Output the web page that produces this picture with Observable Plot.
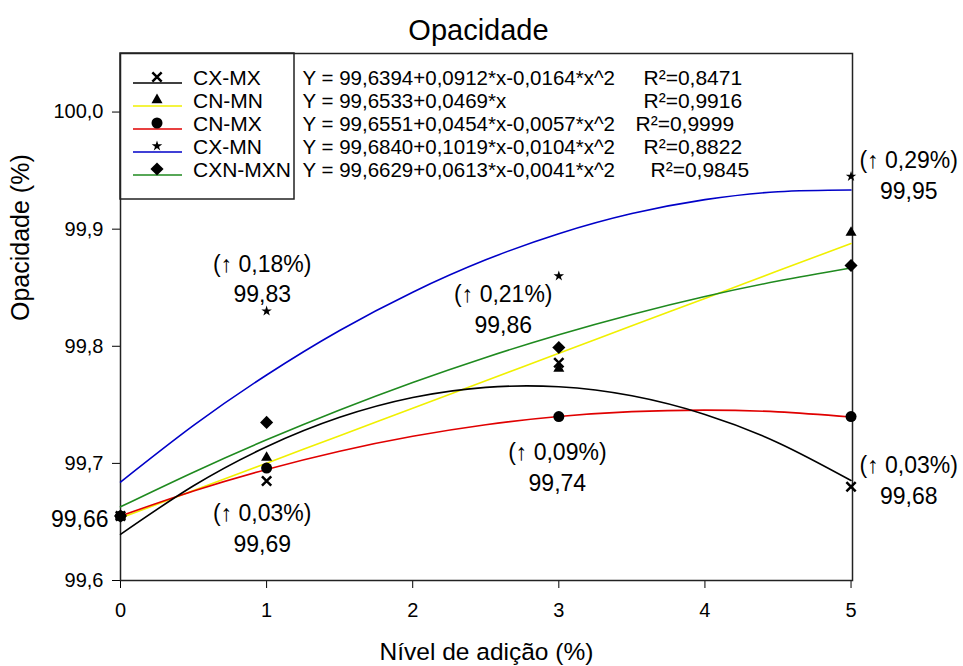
<!DOCTYPE html>
<html><head><meta charset="utf-8">
<script src="https://cdn.jsdelivr.net/npm/d3@7"></script>
<script src="https://cdn.jsdelivr.net/npm/@observablehq/plot@0.6"></script>
<style>body{margin:0;background:#fff} svg{font-family:"Liberation Sans","DejaVu Sans",Arial,sans-serif}</style>
</head><body><div id="chart"></div>
<script>
// ---- data ----
const seriesNames = ["CX-MX", "CN-MN", "CN-MX", "CX-MN", "CXN-MXN"];
const seriesColors = ["#000000", "#f0f000", "#e00000", "#0000c8", "#1f8a1f"];
const seriesSymbols = ["times", "triangle", "circle", "star", "diamond2"];
const levels = [0, 1, 3, 5];
const obsCXMX   = [99.655, 99.685, 99.786, 99.680];
const obsCNMN   = [99.655, 99.705, 99.781, 99.897];
const obsCNMX   = [99.655, 99.696, 99.740, 99.740];
const obsCXMN   = [99.655, 99.830, 99.860, 99.945];
const obsCXNMXN = [99.655, 99.735, 99.799, 99.869];
// fitted curves read along x = 0, 0.5, ..., 5
const fitX      = [0, 0.5, 1, 1.5, 2, 2.5, 3, 3.5, 4, 4.5, 5];
const fitCXMX   = [99.6394, 99.6809, 99.7142, 99.7393, 99.7562, 99.7649, 99.7654, 99.7577, 99.7418, 99.7177, 99.6854];
const fitCNMN   = [99.6533, 99.6768, 99.7002, 99.7237, 99.7471, 99.7706, 99.7940, 99.8175, 99.8409, 99.8644, 99.8878];
const fitCNMX   = [99.6551, 99.6764, 99.6948, 99.7104, 99.7231, 99.7330, 99.7400, 99.7442, 99.7455, 99.7440, 99.7396];
const fitCXMN   = [99.6840, 99.7324, 99.7755, 99.8135, 99.8462, 99.8738, 99.8961, 99.9133, 99.9252, 99.9320, 99.9335];
const fitCXNMXN = [99.6629, 99.6925, 99.7201, 99.7456, 99.7691, 99.7905, 99.8099, 99.8272, 99.8425, 99.8557, 99.8669];
const equations = [
  "Y = 99,6394+0,0912*x-0,0164*x^2",
  "Y = 99,6533+0,0469*x",
  "Y = 99,6551+0,0454*x-0,0057*x^2",
  "Y = 99,6840+0,1019*x-0,0104*x^2",
  "Y = 99,6629+0,0613*x-0,0041*x^2"
];
const r2Labels = ["R²=0,8471", "R²=0,9916", "R²=0,9999", "R²=0,8822", "R²=0,9845"];
const xTicks = [0, 1, 2, 3, 4, 5];
const yTicks = [99.6, 99.7, 99.8, 99.9, 100.0];
const annoText = ["(↑\uFE0E 0,18%)\n99,83", "(↑\uFE0E 0,03%)\n99,69", "(↑\uFE0E 0,21%)\n99,86", "(↑\uFE0E 0,09%)\n99,74", "(↑\uFE0E 0,29%)\n99,95", "(↑\uFE0E 0,03%)\n99,68"];
const annoX = [0.97, 0.97, 2.62, 2.99, 5.395, 5.395];
const annoY = [99.859, 99.646, 99.833, 99.698, 99.9474, 99.6868];
const baseLabel = "99,66";
const baseValue = 99.652;

const obs = [obsCXMX, obsCNMN, obsCNMX, obsCXMN, obsCXNMXN];
const fits = [fitCXMX, fitCNMN, fitCNMX, fitCXMN, fitCXNMXN];
const symR = {times: 4.3, triangle: 4.1, circle: 5.5, star: 3.3, diamond2: 5.9};
const d3Sym = {times: d3.symbolTimes, triangle: d3.symbolTriangle, circle: d3.symbolCircle, star: d3.symbolStar, diamond2: d3.symbolDiamond2};
const font = "'Liberation Sans', 'DejaVu Sans', Arial, sans-serif";
const rowY = i => 25 + 23 * i;

function legendMark(index, scales, values, dims) {
  const L = dims.marginLeft, T = dims.marginTop;
  const g = d3.create("svg:g");
  g.append("rect").attr("x", L).attr("y", T).attr("width", 174).attr("height", 146)
    .attr("fill", "none").attr("stroke", "#222").attr("stroke-width", 1.5);
  seriesNames.forEach((name, i) => {
    const y = T + rowY(i);
    g.append("line").attr("x1", L + 13).attr("x2", L + 62).attr("y1", y + 5).attr("y2", y + 5)
      .attr("stroke", seriesColors[i]).attr("stroke-width", 1.6);
    const s = seriesSymbols[i], r = symR[s];
    const p = g.append("path").attr("d", d3.symbol(d3Sym[s], r * r * Math.PI)())
      .attr("transform", `translate(${L + 37},${y - 1})`);
    if (s === "times") p.attr("fill", "none").attr("stroke", "#000").attr("stroke-width", 2.5);
    else p.attr("fill", "#000");
    g.append("text").attr("x", L + 73).attr("y", y).attr("dy", "0.35em")
      .attr("text-anchor", "start")
      .attr("font-size", 21).attr("font-family", font).attr("fill", "#000").text(name);
  });
  return g.node();
}

const marks = [Plot.frame({stroke: "#222", strokeWidth: 1.5})];
[1, 2, 0, 4, 3].forEach(i => {
  marks.push(Plot.line(fitX.map((x, j) => ({x, y: fits[i][j]})), {x: "x", y: "y", stroke: seriesColors[i], strokeWidth: 1.6, curve: "natural"}));
});
[4, 3, 1, 0, 2].forEach(i => {
  const s = seriesSymbols[i];
  const opts = {x: "x", y: "y", symbol: s, r: symR[s]};
  if (s === "times") Object.assign(opts, {stroke: "#000", strokeWidth: 2.5, fill: "none"});
  else Object.assign(opts, {fill: "#000", stroke: "none"});
  marks.push(Plot.dot(levels.map((x, j) => ({x, y: obs[i][j]})), opts));
});
marks.push(Plot.text(annoText.map((t, i) => ({t, x: annoX[i], y: annoY[i]})), {x: "x", y: "y", text: "t", fontSize: 23, lineHeight: 1.32, lineAnchor: "middle", fill: "#000"}));
marks.push(Plot.text([{x: 0, y: baseValue}], {x: "x", y: "y", text: () => baseLabel, textAnchor: "end", dx: -12, fontSize: 23, fill: "#000"}));
marks.push(legendMark);
equations.forEach((eq, i) => {
  marks.push(Plot.text([eq], {frameAnchor: "top-left", dx: 182, dy: rowY(i), textAnchor: "start", lineAnchor: "middle", fontSize: 20.5, fill: "#000"}));
});
const r2dx = [523, 523, 515, 523, 530];
r2Labels.forEach((r, i) => {
  marks.push(Plot.text([r], {frameAnchor: "top-left", dx: r2dx[i], dy: rowY(i), textAnchor: "start", lineAnchor: "middle", fontSize: 21, fill: "#000"}));
});
marks.push(Plot.text(["Opacidade"], {frameAnchor: "top", dx: -8, dy: -23, lineAnchor: "middle", fontSize: 29, fill: "#000"}));
marks.push(Plot.text(["Opacidade (%)"], {frameAnchor: "left", dx: -100, dy: 4, rotate: -90, lineAnchor: "middle", fontSize: 25, fill: "#000"}));
marks.push(Plot.text(["Nível de adição (%)"], {frameAnchor: "bottom", dy: 72, lineAnchor: "middle", fontSize: 24.5, fill: "#000"}));

const chart = Plot.plot({
  width: 963, height: 666,
  marginLeft: 120, marginRight: 111, marginTop: 53, marginBottom: 86,
  style: {fontFamily: font, fontSize: "20px", color: "#000", background: "#fff", overflow: "visible"},
  x: {domain: [0, 5.01], ticks: xTicks, tickSize: 8, tickPadding: 14, label: null, tickFormat: d => String(d)},
  y: {domain: [99.6, 100.05], ticks: yTicks, tickSize: 8, tickPadding: 9, label: null, tickFormat: d => d.toFixed(1).replace(".", ",")},
  marks
});
document.getElementById("chart").appendChild(chart);
</script>
</body></html>
